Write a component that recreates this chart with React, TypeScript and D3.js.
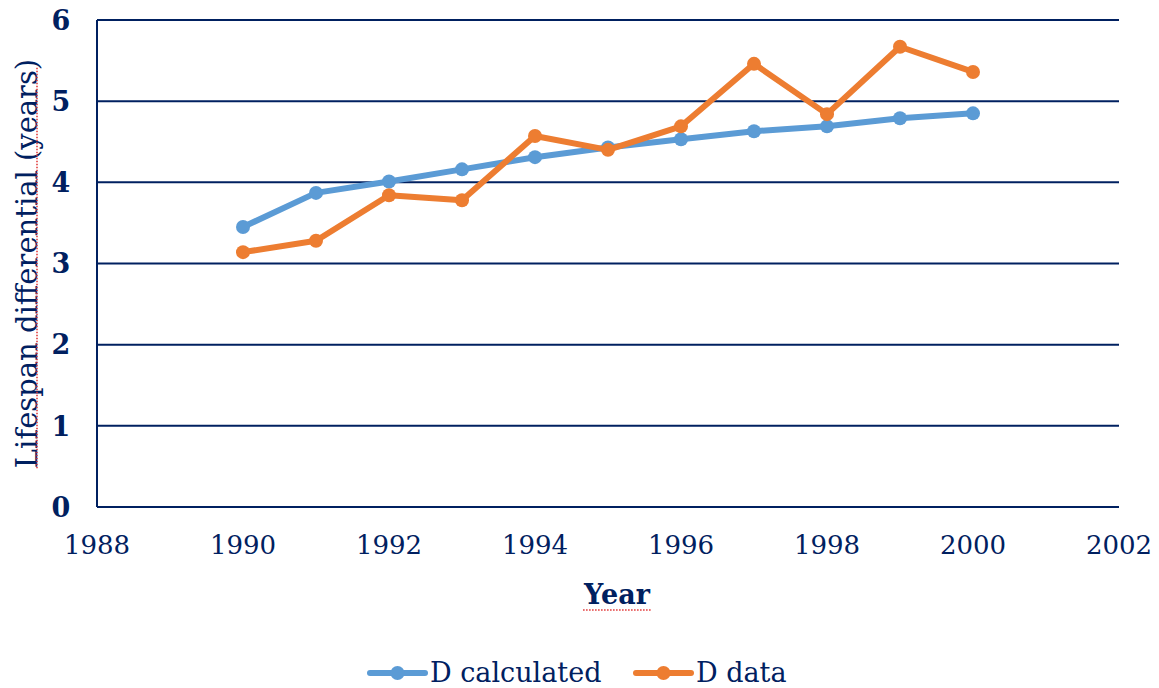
import React, { useEffect, useRef } from 'react';
import * as d3 from 'd3';

const years = [1990, 1991, 1992, 1993, 1994, 1995, 1996, 1997, 1998, 1999, 2000];
const dCalculated = [3.45, 3.87, 4.01, 4.16, 4.31, 4.43, 4.53, 4.63, 4.69, 4.79, 4.85];
const dData = [3.14, 3.28, 3.84, 3.78, 4.57, 4.4, 4.69, 5.46, 4.84, 5.67, 5.36];
const xTicks = [1988, 1990, 1992, 1994, 1996, 1998, 2000, 2002];
const yTicks = [0, 1, 2, 3, 4, 5, 6];

const seriesList = [
  { name: 'D calculated', values: dCalculated, color: '#5B9BD5' },
  { name: 'D data', values: dData, color: '#ED7D31' },
];

const navy = '#002060';
const font = '"DejaVu Serif", "Liberation Serif", serif';

const App = () => {
  const svgRef = useRef<SVGSVGElement>(null);

  useEffect(() => {
    document.body.style.margin = '0';
    const svg = d3.select(svgRef.current);
    svg.selectAll('*').remove();

    const W = 1159, H = 688;
    const margin = { top: 20, right: 40, bottom: 181, left: 97 };
    const width = W - margin.left - margin.right;
    const height = H - margin.top - margin.bottom;

    svg.attr('width', W).attr('height', H);

    const g = svg.append('g').attr('transform', `translate(${margin.left},${margin.top})`);

    const x = d3.scaleLinear().domain([1988, 2002]).range([0, width]);
    const y = d3.scaleLinear().domain([0, 6]).range([height, 0]);

    // gridlines
    g.selectAll('.grid')
      .data(yTicks)
      .enter().append('line')
      .attr('x1', 0)
      .attr('x2', width)
      .attr('y1', d => y(d))
      .attr('y2', d => y(d))
      .attr('stroke', navy)
      .attr('stroke-width', 2);

    // y axis line
    g.append('line')
      .attr('x1', 0).attr('x2', 0)
      .attr('y1', 0).attr('y2', height)
      .attr('stroke', navy)
      .attr('stroke-width', 2);

    // y tick labels
    g.selectAll('.ylab')
      .data(yTicks)
      .enter().append('text')
      .attr('x', -36)
      .attr('y', d => y(d))
      .attr('dy', '0.36em')
      .attr('text-anchor', 'middle')
      .attr('font-family', font)
      .attr('font-weight', 'bold')
      .attr('font-size', 27)
      .attr('fill', navy)
      .text(d => d);

    // x tick labels
    g.selectAll('.xlab')
      .data(xTicks)
      .enter().append('text')
      .attr('x', d => x(d))
      .attr('y', height + 47)
      .attr('text-anchor', 'middle')
      .attr('font-family', font)
      .attr('font-size', 26)
      .attr('fill', navy)
      .text(d => d);

    // axis titles
    const xTitle = g.append('text')
      .attr('x', width / 2 + 9)
      .attr('y', height + 97)
      .attr('text-anchor', 'middle')
      .attr('font-family', font)
      .attr('font-weight', 'bold')
      .attr('font-size', 27)
      .attr('fill', navy)
      .text('Year');

    const yCenter = margin.top + height / 2 + 0;
    const yTitle = svg.append('text')
      .attr('transform', `translate(37,${yCenter}) rotate(-90)`)
      .attr('text-anchor', 'middle')
      .attr('font-family', font)
      .attr('font-size', 29)
      .attr('fill', navy)
      .text('Lifespan differential (years)');

    // spell-check squiggles
    const xb = (xTitle.node() as SVGTextElement).getBBox();
    g.append('line')
      .attr('x1', xb.x).attr('x2', xb.x + xb.width)
      .attr('y1', height + 103).attr('y2', height + 103)
      .attr('stroke', '#e03030').attr('stroke-width', 1.5)
      .attr('stroke-dasharray', '1.5,1.5');
    const yb = (yTitle.node() as SVGTextElement).getBBox();
    svg.append('line')
      .attr('x1', 37).attr('x2', 37)
      .attr('y1', yCenter + yb.width / 2)
      .attr('y2', yCenter - yb.width / 2 + 8)
      .attr('stroke', '#e03030').attr('stroke-width', 1.5)
      .attr('stroke-dasharray', '1.5,1.5');

    const line = d3.line<number>()
      .x((d, i) => x(years[i]))
      .y(d => y(d));

    seriesList.forEach((s, k) => {
      g.append('path')
        .datum(s.values)
        .attr('fill', 'none')
        .attr('stroke', s.color)
        .attr('stroke-width', 6)
        .attr('stroke-linejoin', 'round')
        .attr('d', line);

      g.selectAll(`.dot-${k}`)
        .data(s.values)
        .enter().append('circle')
        .attr('cx', (d, i) => x(years[i]))
        .attr('cy', d => y(d))
        .attr('r', 7)
        .attr('fill', s.color);
    });

    // legend
    const legendX = [370, 636];
    const ly = 673;
    seriesList.forEach((s, k) => {
      const lg = svg.append('g').attr('transform', `translate(${legendX[k]},${ly})`);
      lg.append('line')
        .attr('x1', 0).attr('x2', 55)
        .attr('y1', 0).attr('y2', 0)
        .attr('stroke', s.color)
        .attr('stroke-width', 6)
        .attr('stroke-linecap', 'round');
      lg.append('circle')
        .attr('cx', 27.5).attr('cy', 0).attr('r', 7)
        .attr('fill', s.color);
      lg.append('text')
        .attr('x', 60)
        .attr('y', 0)
        .attr('dy', '0.35em')
        .attr('font-family', font)
        .attr('font-size', 27)
        .attr('fill', navy)
        .text(s.name);
    });
  }, []);

  return <svg ref={svgRef} style={{ display: 'block' }}></svg>;
};

export default App;
